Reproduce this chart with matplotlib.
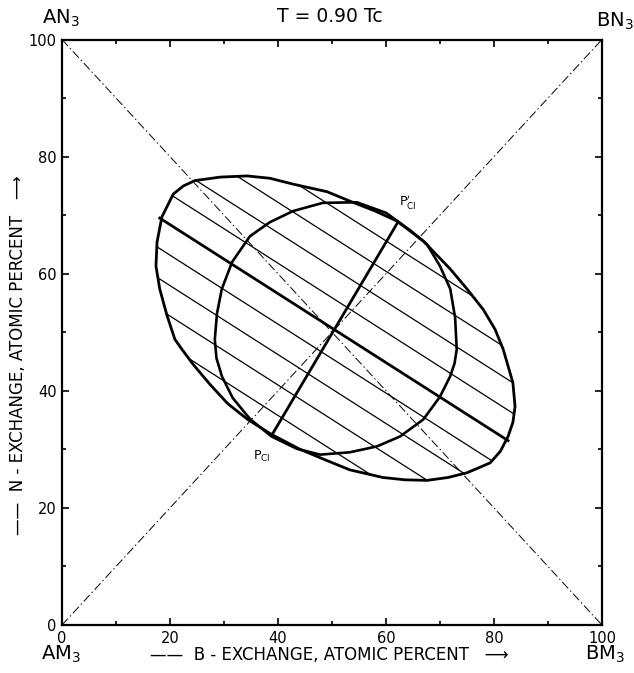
import numpy as np
import matplotlib.pyplot as plt
from matplotlib.patches import Polygon

# outer boundary curve (clockwise from the left end)
outer_x = [17.4, 17.6, 18.5, 20.6, 22.5, 24.6, 29.3, 34.3, 38.5, 42.8, 49.1, 53.3,
           58.0, 62.0, 66.9, 71.9, 75.0, 78.0, 80.2, 81.7, 83.5, 83.9, 83.5, 82.6,
           81.2, 79.3, 75.0, 71.5, 67.6, 63.5, 59.4, 53.3, 48.5, 44.1, 38.9, 34.4,
           30.7, 27.4, 24.3, 22.2, 20.9, 19.4, 18.1]
outer_y = [61.3, 65.4, 69.7, 73.6, 75.0, 75.9, 76.5, 76.7, 76.3, 75.3, 74.0, 72.4,
           70.7, 69.0, 65.6, 60.8, 57.4, 53.9, 50.5, 47.1, 41.4, 37.3, 34.6, 32.2,
           29.7, 27.7, 26.0, 25.2, 24.7, 24.8, 25.2, 26.5, 28.3, 30.0, 32.5, 35.1,
           37.8, 41.1, 44.5, 47.1, 48.8, 53.0, 57.4]

# inner curve
inner_x = [28.3, 28.7, 29.6, 31.5, 34.8, 38.5, 42.8, 48.3, 54.6, 60.0, 64.5, 67.6,
           70.0, 71.9, 72.8, 73.1, 72.7, 71.9, 70.0, 66.9, 62.6, 58.3, 53.3, 47.8,
           43.5, 38.8, 34.8, 31.6, 29.6, 28.6]
inner_y = [48.8, 53.2, 57.4, 62.0, 66.4, 68.8, 70.7, 72.1, 72.2, 70.4, 67.4, 65.0,
           61.3, 57.4, 52.5, 47.1, 44.7, 42.5, 39.0, 35.1, 32.2, 30.5, 29.5, 29.1,
           30.1, 32.2, 35.2, 38.8, 42.5, 45.6]

# tie lines: common slope, value of y where each crosses x = 50
tie_slope = -0.589
tie_at50 = [29.9, 35.1, 40.3, 45.5, 55.9, 61.1, 66.3, 71.5]

# heavy tie line and the line joining the critical points
main_tie_x, main_tie_y = [18.1, 82.6], [69.5, 31.5]
crit_x, crit_y = [38.9, 62.2], [32.5, 68.8]

ticks = [0, 20, 40, 60, 80, 100]

fig = plt.figure(figsize=(6.34, 6.73), dpi=100)
ax = fig.add_axes([0.0978, 0.0713, 0.8517, 0.870])
ax.set_xlim(0, 100)
ax.set_ylim(0, 100)

dashdot = (0, (9, 3, 1.5, 3))
ax.plot([0, 100], [0, 100], color='k', lw=0.7, ls=dashdot)
ax.plot([0, 100], [100, 0], color='k', lw=0.7, ls=dashdot)

outline = Polygon(np.column_stack([outer_x, outer_y]), closed=True,
                  fill=False, ec='k', lw=2.0, joinstyle='round')
ax.add_patch(outline)
ax.add_patch(Polygon(np.column_stack([inner_x, inner_y]), closed=True,
                     fill=False, ec='k', lw=1.9, joinstyle='round'))

xs = np.array([0.0, 100.0])
for b in tie_at50:
    ln, = ax.plot(xs, b + tie_slope * (xs - 50), color='k', lw=0.9)
    ln.set_clip_path(outline)

ax.plot(main_tie_x, main_tie_y, color='k', lw=2.0)
ax.plot(crit_x, crit_y, color='k', lw=2.0)

ax.text(37.0, 28.8, r'P$_{\mathsf{CI}}$', fontsize=9, ha='center', va='center')
ax.text(64.0, 72.3, r"P$^{\prime}_{\mathsf{CI}}$", fontsize=9, ha='center', va='center')

ax.set_xticks(ticks)
ax.set_yticks(ticks)
ax.set_xticks(range(10, 100, 20), minor=True)
ax.set_yticks(range(10, 100, 20), minor=True)
ax.tick_params(which='both', direction='in', top=True, right=True, width=1.2,
               labelsize=10.5, pad=4)
ax.tick_params(which='major', length=5)
ax.tick_params(which='minor', length=3)
for s in ax.spines.values():
    s.set_linewidth(1.6)

fig.text(0.52, 0.975, 'T = 0.90 Tc', fontsize=13.5, ha='center', va='center')
fig.text(0.096, 0.972, r'AN$_3$', fontsize=14, ha='center', va='center')
fig.text(0.970, 0.968, r'BN$_3$', fontsize=14, ha='center', va='center')
fig.text(0.096, 0.027, r'AM$_3$', fontsize=14, ha='center', va='center')
fig.text(0.955, 0.027, r'BM$_3$', fontsize=14, ha='center', va='center')
fig.text(0.52, 0.027, '——  B - EXCHANGE, ATOMIC PERCENT   ⟶', fontsize=12,
         ha='center', va='center')
fig.text(0.028, 0.472, '——  N - EXCHANGE, ATOMIC PERCENT   ⟶', fontsize=12,
         ha='center', va='center', rotation=90)

fig.savefig('out.png', dpi=100)
